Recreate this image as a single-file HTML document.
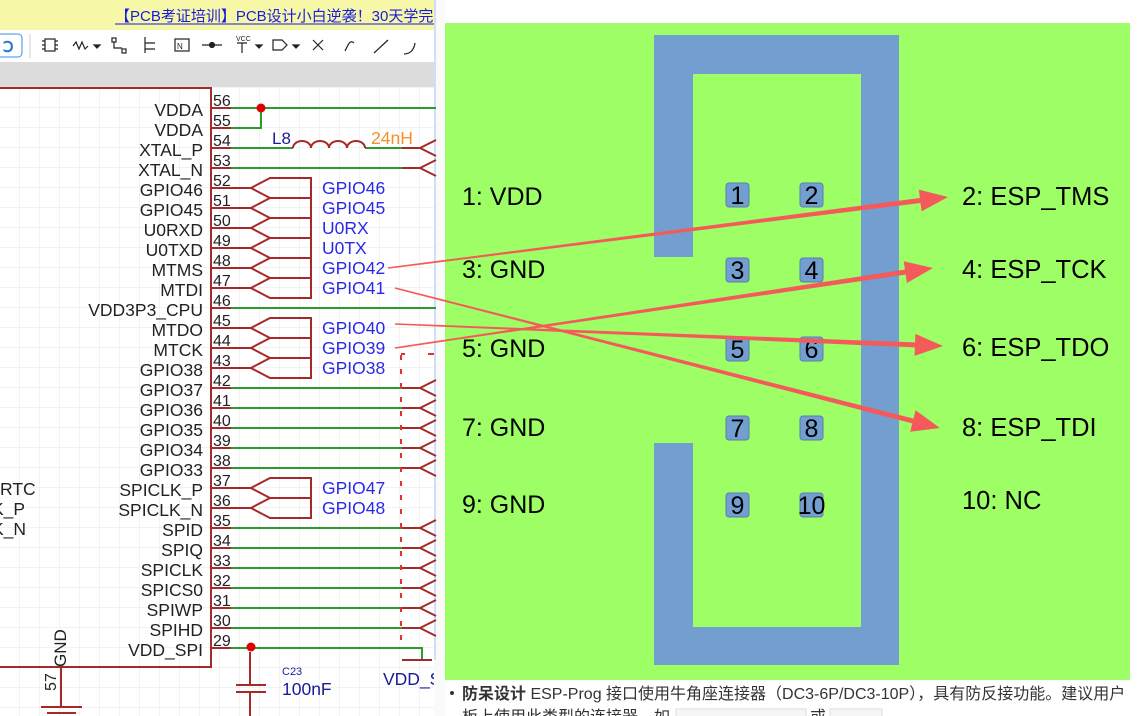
<!DOCTYPE html>
<html><head><meta charset="utf-8"><style>
html,body{margin:0;padding:0;width:1141px;height:716px;overflow:hidden;background:#fff}
svg{display:block}
</style></head><body>
<svg width="1141" height="716" viewBox="0 0 1141 716" xmlns="http://www.w3.org/2000/svg" font-family="Liberation Sans, Noto Sans CJK SC, sans-serif">
<defs>
<pattern id="grid" width="20" height="20" patternUnits="userSpaceOnUse" x="0" y="8">
<path d="M20 0V20M0 20H20" stroke="#e6e6e6" stroke-width="1" fill="none"/>
</pattern>
</defs>
<rect x="0" y="0" width="436" height="30" fill="#f6f8a8"/>
<text x="115" y="21" font-size="15" fill="#1a1adf">【PCB考证培训】PCB设计小白逆袭！30天学完考证</text>
<line x1="115" y1="24" x2="436" y2="24" stroke="#1a1adf" stroke-width="1"/>
<rect x="436" y="0" width="705" height="30" fill="#fff"/>
<rect x="0" y="30" width="436" height="32" fill="#fff"/>
<rect x="-6" y="34" width="28" height="23" rx="4" fill="#fff" stroke="#3b8de8"/>
<text x="3" y="52" font-size="15" fill="#2a7ad8" font-weight="bold">Ↄ</text>
<line x1="30" y1="34" x2="30" y2="58" stroke="#ccc"/>
<g stroke="#222" fill="none" stroke-width="1.2">
<rect x="45" y="39" width="10" height="12"/><path d="M42 41h3M42 45h3M42 49h3M55 41h3M55 45h3M55 49h3"/>
<path d="M73 46l3-4 3 7 3-7 3 7 3-3"/><path d="M94 45l3 3 3-3z" fill="#222"/>
<rect x="112" y="38" width="4" height="4"/><rect x="122" y="49" width="4" height="4"/><path d="M114 42v6h8"/>
<path d="M145 37v16M145 43h10M145 49h10"/>
<rect x="175" y="39" width="14" height="12"/>
<path d="M202 45h20"/><circle cx="212" cy="45" r="2.5" fill="#222"/>
<path d="M237 43h10M242 43v10"/><path d="M256 45l3 3 3-3z" fill="#222"/>
<path d="M273 40h9l5 5-5 5h-9z"/><path d="M293 45l3 3 3-3z" fill="#222"/>
<path d="M313 40l10 10M323 40l-10 10"/>
<path d="M345 51c3-6 5-12 9-8"/>
<path d="M374 53l14-13"/>
<path d="M404 54c6 0 10-4 11-11"/>
</g>
<text x="177" y="49" font-size="8" fill="#222">N</text>
<text x="236" y="41" font-size="7" fill="#222">VCC</text>
<rect x="0" y="62" width="436" height="25" fill="#dcdcdc"/>
<rect x="0" y="87" width="436" height="629" fill="url(#grid)"/>
<rect x="434" y="0" width="11" height="716" fill="#fafafa"/>
<line x1="435" y1="0" x2="435" y2="716" stroke="#cfe0f5" stroke-width="2"/>

<g stroke="#a52a2a" stroke-width="2" fill="none">
<path d="M0 88H211V667H0"/>
<path d="M61 667V707M41 707H82M47 713H76"/>
</g>
<text transform="translate(66,667) rotate(-90)" font-size="17" fill="#222">GND</text>
<text transform="translate(56,691) rotate(-90)" font-size="16" fill="#222">57</text>
<g font-size="17.5" fill="#222">
<text x="0" y="495">RTC</text><text x="-8" y="515">K_P</text><text x="-8" y="535">K_N</text>
</g>
<g font-size="17.5" fill="#222" text-anchor="end">
<text x="203" y="116">VDDA</text><text x="203" y="136">VDDA</text><text x="203" y="156">XTAL_P</text><text x="203" y="176">XTAL_N</text>
<text x="203" y="196">GPIO46</text><text x="203" y="216">GPIO45</text><text x="203" y="236">U0RXD</text><text x="203" y="256">U0TXD</text>
<text x="203" y="276">MTMS</text><text x="203" y="296">MTDI</text><text x="203" y="316">VDD3P3_CPU</text><text x="203" y="336">MTDO</text>
<text x="203" y="356">MTCK</text><text x="203" y="376">GPIO38</text><text x="203" y="396">GPIO37</text><text x="203" y="416">GPIO36</text>
<text x="203" y="436">GPIO35</text><text x="203" y="456">GPIO34</text><text x="203" y="476">GPIO33</text><text x="203" y="496">SPICLK_P</text>
<text x="203" y="516">SPICLK_N</text><text x="203" y="536">SPID</text><text x="203" y="556">SPIQ</text><text x="203" y="576">SPICLK</text>
<text x="203" y="596">SPICS0</text><text x="203" y="616">SPIWP</text><text x="203" y="636">SPIHD</text><text x="203" y="656">VDD_SPI</text>
</g>
<g font-size="16" fill="#222">
<text x="213" y="106">56</text><text x="213" y="126">55</text><text x="213" y="146">54</text><text x="213" y="166">53</text>
<text x="213" y="186">52</text><text x="213" y="206">51</text><text x="213" y="226">50</text><text x="213" y="246">49</text>
<text x="213" y="266">48</text><text x="213" y="286">47</text><text x="213" y="306">46</text><text x="213" y="326">45</text>
<text x="213" y="346">44</text><text x="213" y="366">43</text><text x="213" y="386">42</text><text x="213" y="406">41</text>
<text x="213" y="426">40</text><text x="213" y="446">39</text><text x="213" y="466">38</text><text x="213" y="486">37</text>
<text x="213" y="506">36</text><text x="213" y="526">35</text><text x="213" y="546">34</text><text x="213" y="566">33</text>
<text x="213" y="586">32</text><text x="213" y="606">31</text><text x="213" y="626">30</text><text x="213" y="646">29</text>
</g>
<g stroke="#a52a2a" stroke-width="2">
<path d="M211 108h20M211 128h20M211 148h20M211 168h20M211 188h40M211 208h40M211 228h40M211 248h40M211 268h40M211 288h40M211 308h20M211 328h40M211 348h40M211 368h40M211 388h20M211 408h20M211 428h20M211 448h20M211 468h20M211 488h40M211 508h40M211 528h20M211 548h20M211 568h20M211 588h20M211 608h20M211 628h20M211 648h20"/>
</g>
<g stroke="#2e9a2e" stroke-width="2" fill="none">
<path d="M231 108H436M261 108V128H231M231 148H293M365 148H402M231 168H402M231 308H436"/>
<path d="M231 388H402M231 408H402M231 428H402M231 448H402M231 468H402M231 528H402M231 548H402M231 568H402M231 588H402M231 608H402M231 628H402M231 648H422V660"/>
</g>
<circle cx="261" cy="108" r="4.5" fill="#d00"/>
<circle cx="251" cy="647" r="4.5" fill="#d00"/>
<path d="M293 148a9 7 0 0 1 18 0a9 7 0 0 1 18 0a9 7 0 0 1 18 0a9 7 0 0 1 18 0" stroke="#a52a2a" stroke-width="2" fill="none"/>
<text x="272" y="144" font-size="17" fill="#1a1a9a">L8</text>
<text x="371" y="144" font-size="17.5" fill="#f5902a">24nH</text>
<g stroke="#a52a2a" stroke-width="2" fill="none">
<path d="M402 148H420L436 140M420 148L436 156M402 168H420L436 160M420 168L436 176"/>
<path d="M402 388H420L436 380M420 388L436 396M402 408H420L436 400M420 408L436 416M402 428H420L436 420M420 428L436 436M402 448H420L436 440M420 448L436 456M402 468H420L436 460M420 468L436 476"/>
<path d="M402 528H420L436 520M420 528L436 536M402 548H420L436 540M420 548L436 556M402 568H420L436 560M420 568L436 576M402 588H420L436 580M420 588L436 596M402 608H420L436 600M420 608L436 616M402 628H420L436 620M420 628L436 636"/>
<path d="M401 355V640" stroke-dasharray="5 9" stroke="#e03030"/>
<path d="M401 354h4M428 354h6" stroke="#e03030"/>
<path d="M402 660h30M250 652V685M236 685H266M236 692H266M250 692V716"/>
</g>
<g stroke="#a52a2a" stroke-width="2" fill="none">
<path d="M251 188L270 178H311V298H270L251 288L270 278L251 268L270 258L251 248L270 238L251 228L270 218L251 208L270 198L251 188M270 198H311M270 218H311M270 238H311M270 258H311M270 278H311"/>
<path d="M251 328L270 318H311V378H270L251 368L270 358L251 348L270 338L251 328M270 338H311M270 358H311"/>
<path d="M251 488L270 478H311V518H270L251 508L270 498L251 488M270 498H311"/>
</g>
<g font-size="17.5" fill="#2a2ae6">
<text x="322" y="194">GPIO46</text><text x="322" y="214">GPIO45</text><text x="322" y="234">U0RX</text><text x="322" y="254">U0TX</text>
<text x="322" y="274">GPIO42</text><text x="322" y="294">GPIO41</text><text x="322" y="334">GPIO40</text><text x="322" y="354">GPIO39</text>
<text x="322" y="374">GPIO38</text><text x="322" y="494">GPIO47</text><text x="322" y="514">GPIO48</text>
</g>
<text x="282" y="675" font-size="11" fill="#1a1a9a">C23</text>
<text x="282" y="695" font-size="17.5" fill="#1a1a9a">100nF</text>
<text x="383" y="685" font-size="17.5" fill="#1a1a9a">VDD_S</text>
<rect x="434" y="660" width="11" height="56" fill="#fafafa"/>

<rect x="445" y="23" width="685" height="657" fill="#9dfe66"/>
<g fill="#729fcf">
<rect x="654" y="35" width="245" height="39"/>
<rect x="654" y="35" width="39" height="222"/>
<rect x="861" y="35" width="38" height="630"/>
<rect x="654" y="443" width="39" height="222"/>
<rect x="654" y="627" width="245" height="38"/>
</g>
<g fill="#729fcf" stroke="#5a7fb0" stroke-width="1">
<rect x="726" y="183" width="23" height="24" rx="3"/><rect x="800" y="183" width="23" height="24" rx="3"/>
<rect x="726" y="258" width="23" height="24" rx="3"/><rect x="800" y="258" width="23" height="24" rx="3"/>
<rect x="726" y="337" width="23" height="24" rx="3"/><rect x="800" y="337" width="23" height="24" rx="3"/>
<rect x="726" y="416" width="23" height="24" rx="3"/><rect x="800" y="416" width="23" height="24" rx="3"/>
<rect x="726" y="493" width="23" height="24" rx="3"/><rect x="800" y="493" width="23" height="24" rx="3"/>
</g>
<g font-size="25" fill="#000" text-anchor="middle">
<text x="737.5" y="204">1</text><text x="811.5" y="204">2</text>
<text x="737.5" y="279">3</text><text x="811.5" y="279">4</text>
<text x="737.5" y="358">5</text><text x="811.5" y="358">6</text>
<text x="737.5" y="437">7</text><text x="811.5" y="437">8</text>
<text x="737.5" y="514">9</text><text x="811.5" y="514">10</text>
</g>
<g font-size="25" fill="#000">
<text x="462" y="205">1: VDD</text><text x="462" y="278">3: GND</text><text x="462" y="357">5: GND</text>
<text x="462" y="436">7: GND</text><text x="462" y="513">9: GND</text>
</g>
<g font-size="25.5" fill="#000">
<text x="962" y="205">2: ESP_TMS</text><text x="962" y="278">4: ESP_TCK</text><text x="962" y="356">6: ESP_TDO</text>
<text x="962" y="436">8: ESP_TDI</text><text x="962" y="509">10: NC</text>
</g>
<g fill="#f55a5a">
<polygon points="387.9,267.3 919.9,198 918.8,189.6 948,197 921.6,211.4 920.5,203 388.1,268.7"/>
<polygon points="394.9,347.3 904.9,269.6 903.7,261.2 933,268 906.9,283 905.7,274.6 395.1,348.7"/>
<polygon points="395,323.3 915.1,342.4 915.4,333.9 943,346 914.6,355.9 914.9,347.4 395,324.7"/>
<polygon points="395.2,287.3 913.5,418.6 915.6,410.3 940,428 910.2,431.7 912.3,423.4 394.8,288.7"/>
</g>
<circle cx="452" cy="693" r="2" fill="#333"/>
<text x="462" y="699" font-size="16" fill="#333"><tspan font-weight="bold">防呆设计</tspan> ESP-Prog 接口使用牛角座连接器（DC3-6P/DC3-10P），具有防反接功能。建议用户</text>
<text x="462" y="722" font-size="16" fill="#333">板上使用此类型的连接器，如</text>
<rect x="676" y="709" width="130" height="14" fill="#f6f6f6" stroke="#ddd"/>
<text x="810" y="722" font-size="16" fill="#333">或</text>
<rect x="830" y="709" width="52" height="14" fill="#f6f6f6" stroke="#ddd"/>
</svg>
</body></html>
